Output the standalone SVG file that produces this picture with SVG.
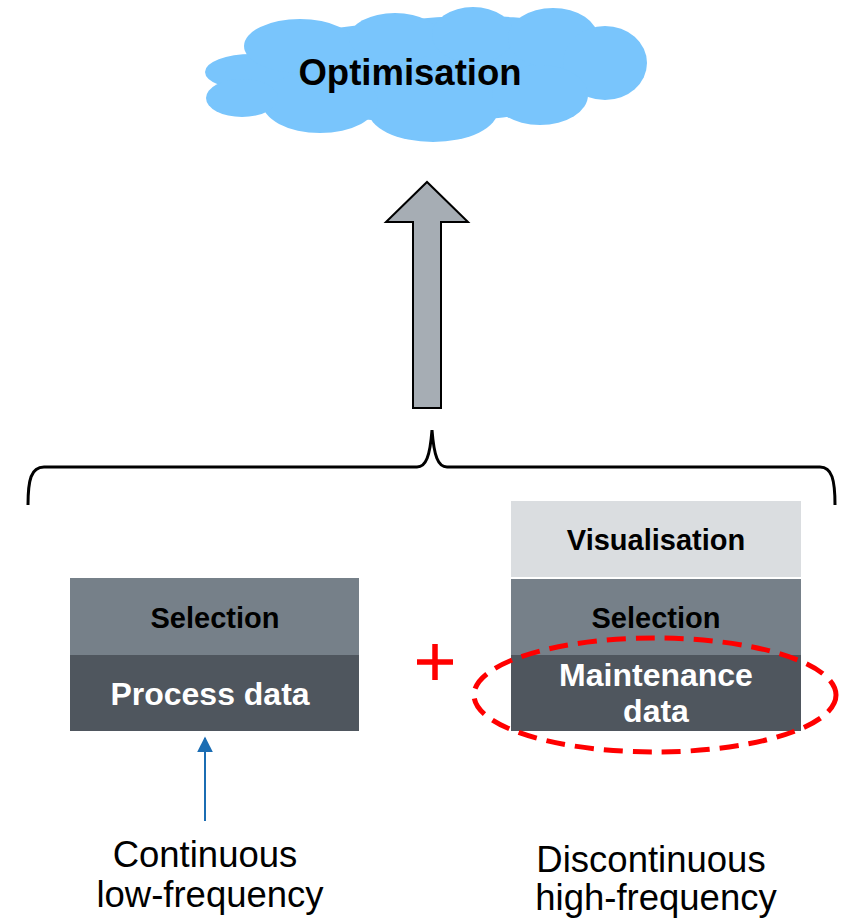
<svg xmlns="http://www.w3.org/2000/svg" width="851" height="924" viewBox="0 0 851 924">
  <style>
    .cloud { fill: #79c5fc; }
    .bold { font-family: "Liberation Sans", Arial, sans-serif; font-weight: bold; text-anchor: middle; }
    .plain { font-family: "Liberation Sans", Arial, sans-serif; text-anchor: middle; fill: #000; font-size: 36.5px; }
    .light { fill: #dadde0; }
    .mid { fill: #768089; }
    .dark { fill: #4f565e; }
  </style>
  <defs>
    <marker id="blueHead" viewBox="0 0 10 10" refX="9" refY="5" markerWidth="16" markerHeight="16" markerUnits="userSpaceOnUse" orient="auto">
      <path d="M0,0 L10,5 L0,10 Z" fill="#1b6db3"/>
    </marker>
  </defs>
  <rect width="851" height="924" fill="#ffffff"/>

  <!-- Cloud: union of ellipses -->
  <g id="optimisation">
    <g class="cloud">
      <ellipse cx="425" cy="72" rx="185" ry="50"/>
      <ellipse cx="475" cy="32" rx="100" ry="16"/>
      <ellipse cx="252" cy="72" rx="47" ry="18"/>
      <ellipse cx="300" cy="46" rx="56" ry="27"/>
      <ellipse cx="395" cy="38" rx="46" ry="25"/>
      <ellipse cx="473" cy="35" rx="41" ry="28"/>
      <ellipse cx="553" cy="38" rx="45" ry="30"/>
      <ellipse cx="605" cy="63" rx="42" ry="37"/>
      <ellipse cx="540" cy="95" rx="48" ry="30"/>
      <ellipse cx="433" cy="110" rx="65" ry="32"/>
      <ellipse cx="320" cy="102" rx="58" ry="31"/>
      <ellipse cx="242" cy="98" rx="36" ry="19"/>
    </g>
    <text class="bold" x="410" y="85" font-size="36.5" fill="#000">Optimisation</text>
  </g>

  <g id="connectors">
    <!-- Big upward arrow -->
    <path d="M413,408 L413,222 L386,222 L427,182 L468,222 L441,222 L441,408 Z" fill="#a6adb4" stroke="#000" stroke-width="2" stroke-linejoin="miter"/>
    <!-- Curly brace -->
    <path d="M28,505 C28,480 31,467 44,467 L417,467 C426,467 430,456 432,430 C434,456 438,467 447,467 L820,467 C832,467 835,480 835,505" fill="none" stroke="#000" stroke-width="3"/>
    <!-- Blue input arrow -->
    <line x1="205" y1="821" x2="205" y2="738" stroke="#1b6db3" stroke-width="2" marker-end="url(#blueHead)"/>
  </g>

  <g id="process-stack">
    <rect class="mid" x="70" y="578" width="289" height="77"/>
    <rect class="dark" x="70" y="655" width="289" height="76"/>
    <text class="bold" x="215" y="628" font-size="29" fill="#000">Selection</text>
    <text class="bold" x="210" y="705" font-size="32" fill="#fff">Process data</text>
  </g>

  <g id="plus">
    <path d="M417,662 H453 M435,644 V680" stroke="#ff0000" stroke-width="5.5" fill="none"/>
  </g>

  <g id="maintenance-stack">
    <rect class="light" x="511" y="501" width="290" height="76"/>
    <rect class="mid" x="511" y="579" width="290" height="76"/>
    <rect class="dark" x="511" y="655" width="290" height="76"/>
    <text class="bold" x="656" y="550" font-size="29" fill="#000">Visualisation</text>
    <text class="bold" x="656" y="628" font-size="29" fill="#000">Selection</text>
    <text class="bold" x="656" y="686" font-size="32" fill="#fff">Maintenance</text>
    <text class="bold" x="656" y="722" font-size="32" fill="#fff">data</text>
  </g>

  <g id="highlight">
    <ellipse cx="655" cy="695" rx="181" ry="57" fill="none" stroke="#ff0000" stroke-width="5" stroke-dasharray="19 10"/>
  </g>

  <g id="label-continuous">
    <text class="plain" x="205" y="867">Continuous</text>
    <text class="plain" x="210" y="907">low-frequency</text>
  </g>

  <g id="label-discontinuous">
    <text class="plain" x="651" y="872">Discontinuous</text>
    <text class="plain" x="656" y="910">high-frequency</text>
  </g>
</svg>
